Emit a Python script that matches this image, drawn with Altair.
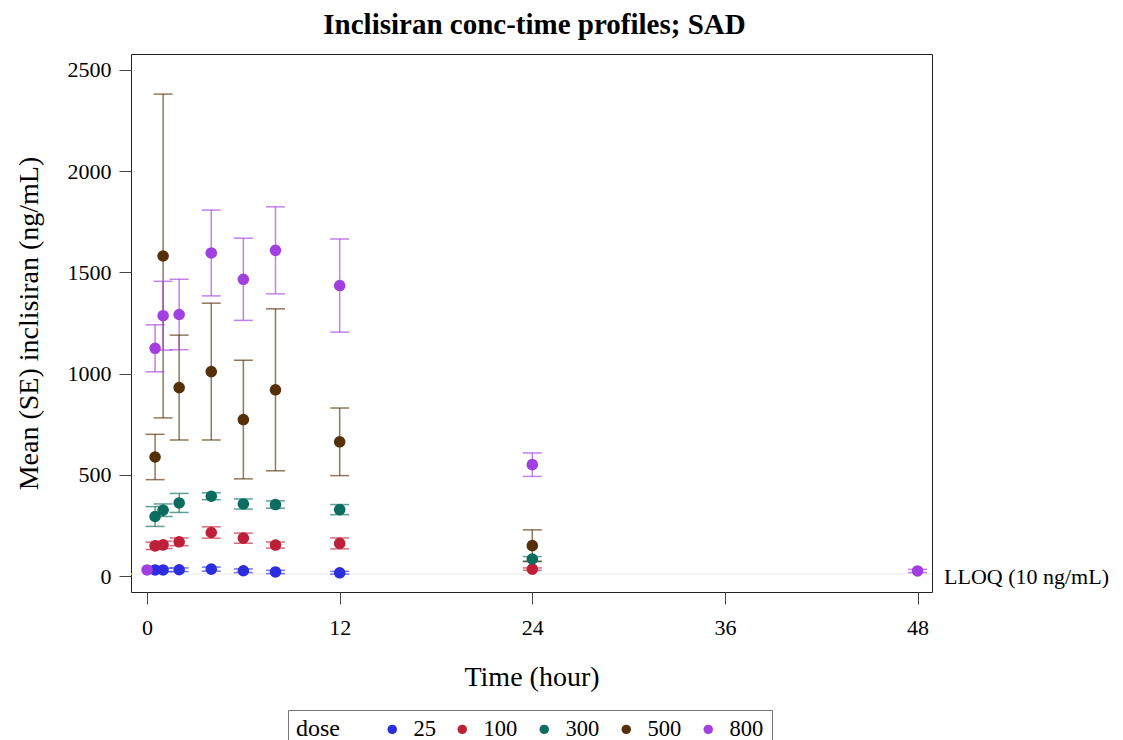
import altair as alt
import pandas as pd

doses = ["25", "100", "300", "500", "800"]
colors = ["#2c2ce0", "#bf1f38", "#0b6c5f", "#553008", "#a23fe0"]

times_25 = [0.5, 1, 2, 4, 6, 8, 12]
mean_25 = [30, 30, 31, 34, 26, 20, 16]
se_25 = [9, 9, 9, 10, 9, 8, 7]

times_100 = [0.5, 1, 2, 4, 6, 8, 12, 24]
mean_100 = [149, 154, 169, 215, 187, 153, 161, 34]
se_100 = [18, 18, 19, 28, 25, 15, 27, 6]

times_300 = [0.5, 1, 2, 4, 6, 8, 12, 24]
mean_300 = [294, 325, 361, 394, 356, 353, 328, 84]
se_300 = [49, 31, 47, 17, 25, 18, 25, 12]

times_500 = [0.5, 1, 2, 4, 6, 8, 12, 24]
mean_500 = [588, 1581, 931, 1010, 773, 920, 663, 150]
se_500 = [112, 800, 259, 338, 293, 400, 167, 78]

times_800 = [0, 0.5, 1, 2, 4, 6, 8, 12, 24, 48]
mean_800 = [30, 1125, 1286, 1292, 1596, 1466, 1609, 1435, 550, 25]
se_800 = [0, 116, 170, 174, 212, 203, 215, 230, 58, 8]

x_ticks = [0, 12, 24, 36, 48]
y_ticks = [0, 500, 1000, 1500, 2000, 2500]
lloq = [10]
lloq_label = "LLOQ (10 ng/mL)"

series = [
    ("25", times_25, mean_25, se_25),
    ("100", times_100, mean_100, se_100),
    ("300", times_300, mean_300, se_300),
    ("500", times_500, mean_500, se_500),
    ("800", times_800, mean_800, se_800),
]
color_of = dict(zip(doses, colors))
rows = []
for d, ts, ms, ss in series:
    for t, m, s in zip(ts, ms, ss):
        rows.append({"dose": d, "time": t, "mean": m, "lo": m - s, "hi": m + s,
                     "col": color_of[d]})
df = pd.DataFrame(rows)
err_df = df[df["hi"] > df["lo"]]

FONT = "Liberation Serif"
W, H = 801, 538

xscale = alt.Scale(domain=[-1.0, 48.9], nice=False, zero=False)
yscale = alt.Scale(domain=[-79, 2579], nice=False, zero=False)
XT = "Time (hour)"
YT = "Mean (SE) inclisiran (ng/mL)"
xaxis = alt.Axis(values=x_ticks, title=XT, format="d", labelPadding=13, titlePadding=25)
yaxis = alt.Axis(values=y_ticks, title=YT, format="d", labelPadding=8, titlePadding=24)


def X(field):
    return alt.X(field, scale=xscale, axis=xaxis, title=XT)


def Y(field):
    return alt.Y(field, scale=yscale, axis=yaxis, title=YT)


stroke_enc = alt.Stroke("col:N", scale=None)

lloq_df = pd.DataFrame({"y": lloq, "label": [lloq_label]})
lloq_line = alt.Chart(lloq_df).mark_rule(color="#e9e9e9", strokeWidth=1).encode(
    y=Y("y:Q"), x=alt.value(0), x2=alt.value(W)
)
lloq_text = alt.Chart(lloq_df).mark_text(
    align="left", baseline="middle", font=FONT, fontSize=22, color="black", dy=3
).encode(y=Y("y:Q"), x=alt.value(W + 12), text="label:N")

bars = alt.Chart(err_df).mark_rule(strokeWidth=1.5, opacity=0.65).encode(
    x=X("time:Q"), y=Y("lo:Q"), y2="hi:Q", stroke=stroke_enc
)
cap_hi = alt.Chart(err_df).mark_rule(strokeWidth=1.5, opacity=0.65, xOffset=-9.5, x2Offset=9.5).encode(
    x=X("time:Q"), x2="time:Q", y=Y("hi:Q"), stroke=stroke_enc
)
cap_lo = alt.Chart(err_df).mark_rule(strokeWidth=1.5, opacity=0.65, xOffset=-9.5, x2Offset=9.5).encode(
    x=X("time:Q"), x2="time:Q", y=Y("lo:Q"), stroke=stroke_enc
)
points = alt.Chart(df).mark_point(filled=True, size=135, opacity=1).encode(
    x=X("time:Q"),
    y=Y("mean:Q"),
    color=alt.Color(
        "dose:N",
        scale=alt.Scale(domain=doses, range=colors),
        legend=alt.Legend(
            title="dose",
            orient="none",
            legendX=157,
            legendY=656,
            direction="horizontal",
            titleOrient="left",
            titleFont=FONT,
            titleFontSize=24,
            titleFontWeight="normal",
            titleColor="black",
            titlePadding=41,
            labelFont=FONT,
            labelFontSize=22.5,
            labelColor="black",
            labelOffset=10,
            columnPadding=15,
            symbolType="circle",
            symbolSize=90,
            symbolStrokeWidth=0,
            strokeColor="#777777",
            padding=8,
        ),
    ),
)

chart = (
    alt.layer(lloq_line, bars, cap_hi, cap_lo, points, lloq_text)
    .properties(
        width=W,
        height=H,
        autosize=alt.AutoSizeParams(type="none"),
        padding={"left": 123, "top": 46, "right": 183, "bottom": 148},
        title=alt.TitleParams(
            "Inclisiran conc-time profiles; SAD",
            font=FONT,
            fontSize=29,
            fontWeight="bold",
            color="black",
            offset=14,
            dx=3,
        ),
    )
    .configure_view(stroke="#222222", strokeWidth=1)
    .configure_axis(
        grid=False,
        domain=False,
        tickColor="#444444",
        tickSize=12,
        labelFont=FONT,
        labelFontSize=22,
        labelColor="black",
        titleFont=FONT,
        titleFontSize=28,
        titleFontWeight="normal",
        titleColor="black",
    )
)

chart.save("out.html", embed_options={"renderer": "svg", "actions": False})
